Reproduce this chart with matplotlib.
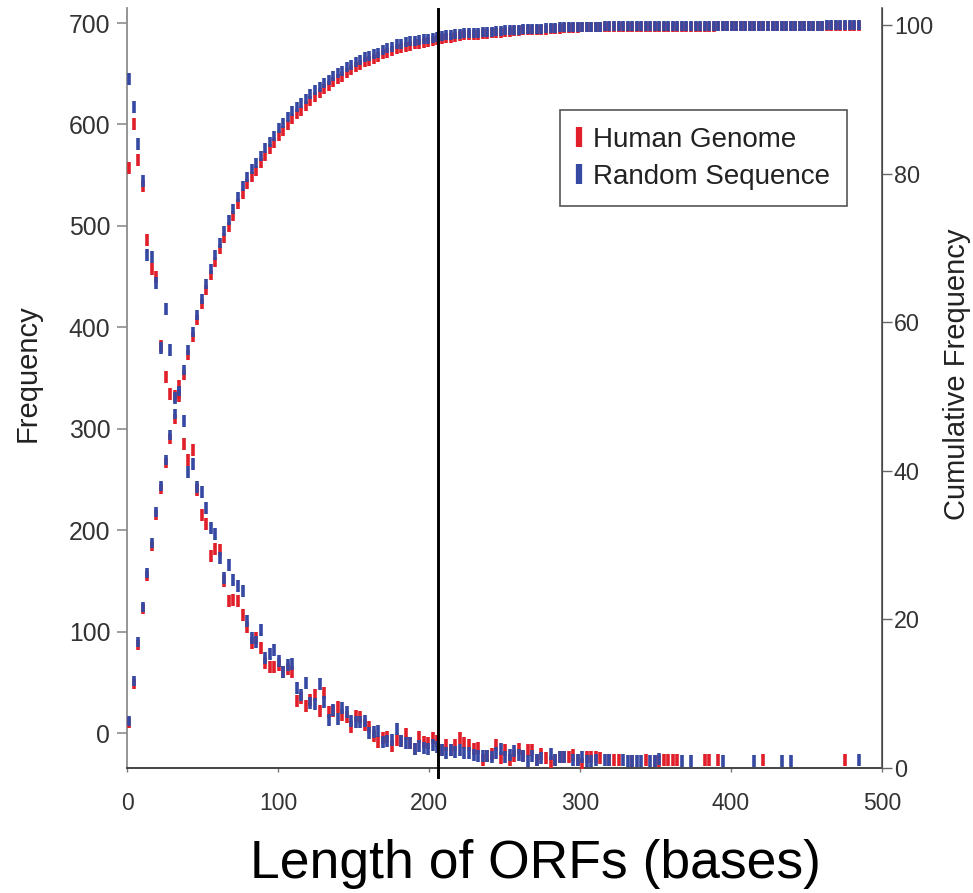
import numpy as np
import matplotlib
matplotlib.use('Agg')
import matplotlib.pyplot as plt
from matplotlib.lines import Line2D

plt.rcParams['font.family'] = ['Liberation Sans', 'DejaVu Sans']

nan = np.nan

# ORF length bins (bases), bin centres
orf_bin_center = np.arange(1.5, 486, 3)

freq_random = [
    645, 617, 581, 544, 471, 469, 444, 380, 418, 378,
    330, 335, 308, 257, 265, 243, 238, 222, 202, 196,
    173, 153, 166, 151, 145, 140, 110, 94, 90, 102,
    74, 78, 82, 71, 60, 67, 68, 44, 37, 49,
    30, 29, 48, 31, 13, 23, 14, 25, 21, 12,
    11, 11, 12, 0, 1, 2, -9, -8, -7, 4,
    -8, -10, -10, -16, -13, -15, -16, -12, -14, -17,
    -20, -17, -19, -17, -20, -20, -22, -23, -23, -23,
    -24, -20, -16, -24, -22, -18, -22, -23, -28, -23,
    -27, -25, nan, -21, -27, -24, -24, nan, -27, -27,
    -24, -28, -28, -27, nan, -27, -27, nan, nan, -27,
    -28, -28, -28, -28, nan, -28, -28, -26, nan, nan,
    nan, nan, -28, nan, -28, nan, nan, nan, nan, nan,
    nan, -28, nan, nan, nan, nan, nan, nan, -28, nan,
    nan, nan, nan, nan, -28, nan, -28, nan, nan, nan,
    nan, nan, nan, nan, nan, nan, nan, nan, nan, nan, nan, -27,
]

freq_human = [
    557, 600, 565, 539, 486, 457, 450, 382, 351, 334,
    332, 342, 285, 269, 279, 240, 215, 206, 175, 181,
    180, 150, 130, 131, 130, 116, 105, 89, 94, 84,
    69, 65, 65, 67, 60, 63, 60, 32, 35, 27,
    33, 37, 22, 39, 21, 22, 26, 18, 16, 6,
    17, 16, 8, 6, -3, -9, -5, -4, -13, -7,
    -8, -1, -10, -16, -4, -9, -10, -5, -8, -17,
    -12, -17, -12, -5, -10, -12, -16, -15, -27, -23,
    -21, -12, -25, -17, -27, -23, -16, -23, -17, -17,
    -27, -21, -25, -29, -27, -24, -24, -24, -22, -27,
    -31, -24, -24, -24, -25, nan, -27, -27, -27, nan,
    nan, -28, nan, nan, -27, nan, -28, -28, -27, -27,
    -27, -27, nan, nan, nan, nan, nan, -27, -27, nan,
    -27, nan, nan, nan, nan, nan, nan, nan, nan, nan,
    -27, nan, nan, nan, nan, nan, nan, nan, nan, nan,
    nan, nan, nan, nan, nan, nan, nan, nan, -27, nan, nan, nan,
]

cum_random = [
    6.3, 11.7, 17.0, 21.7, 26.2, 30.3, 34.4, 37.9, 41.5, 44.8,
    47.6, 50.7, 53.6, 56.3, 58.7, 61.0, 63.1, 65.2, 67.2, 69.0,
    70.7, 72.3, 73.8, 75.3, 76.9, 78.3, 79.6, 80.6, 81.4, 82.4,
    83.4, 84.3, 85.1, 86.1, 86.8, 87.6, 88.4, 89.0, 89.5, 90.1,
    90.7, 91.2, 91.6, 92.2, 92.6, 93.1, 93.5, 93.8, 94.3, 94.6,
    95.0, 95.3, 95.7, 95.9, 96.1, 96.3, 96.7, 96.9, 97.1, 97.4,
    97.5, 97.7, 97.8, 97.9, 98.0, 98.1, 98.1, 98.3, 98.4, 98.5,
    98.6, 98.7, 98.8, 98.8, 98.9, 98.9, 99.0, 99.0, 99.1, 99.1,
    99.1, 99.2, 99.2, 99.3, 99.3, 99.4, 99.4, 99.5, 99.5, 99.5,
    99.5, 99.5, 99.6, 99.6, 99.6, 99.7, 99.7, 99.7, 99.7, 99.7,
    99.8, 99.8, 99.8, 99.8, 99.8, 99.9, 99.9, 99.9, 99.9, 99.9,
    99.9, 99.9, 99.9, 99.9, 99.9, 99.9, 99.9, 99.9, 99.9, 99.9,
    99.9, 99.9, 99.9, 99.9, 99.9, 99.9, 99.9, 99.9, 99.9, 99.9,
    99.9, 99.9, 99.9, 99.9, 99.9, 99.9, 99.9, 99.9, 99.9, 99.9,
    99.9, 99.9, 99.9, 99.9, 99.9, 99.9, 99.9, 99.9, 99.9, 99.9,
    99.9, 99.9, 99.9, 99.9, 100.0, 100.0, 100.0, 100.0, 100.0, 100.0, 100.0, 100.0,
]

cum_human = [
    6.0, 11.3, 16.6, 21.4, 25.8, 29.9, 34.0, 37.5, 41.0, 44.3,
    47.0, 50.0, 52.9, 55.6, 58.0, 60.3, 62.4, 64.4, 66.3, 68.1,
    69.8, 71.3, 72.8, 74.3, 75.9, 77.3, 78.6, 79.6, 80.4, 81.4,
    82.4, 83.3, 84.1, 85.1, 85.8, 86.6, 87.4, 88.0, 88.5, 89.1,
    89.8, 90.3, 90.8, 91.4, 91.8, 92.3, 92.7, 93.0, 93.5, 93.9,
    94.3, 94.6, 95.0, 95.2, 95.5, 95.7, 96.1, 96.3, 96.5, 96.8,
    96.9, 97.1, 97.2, 97.4, 97.5, 97.6, 97.7, 97.9, 98.0, 98.1,
    98.2, 98.3, 98.4, 98.5, 98.6, 98.6, 98.7, 98.7, 98.8, 98.8,
    98.9, 99.0, 99.0, 99.1, 99.1, 99.2, 99.2, 99.3, 99.3, 99.3,
    99.4, 99.4, 99.4, 99.5, 99.5, 99.5, 99.6, 99.6, 99.6, 99.6,
    99.7, 99.7, 99.7, 99.7, 99.7, 99.7, 99.7, 99.7, 99.7, 99.7,
    99.7, 99.7, 99.7, 99.7, 99.7, 99.8, 99.8, 99.8, 99.8, 99.8,
    99.8, 99.8, 99.8, 99.8, 99.8, 99.8, 99.8, 99.8, 99.8, 99.8,
    99.9, 99.9, 99.9, 99.9, 99.9, 99.9, 99.9, 99.9, 99.9, 99.9,
    99.9, 99.9, 99.9, 99.9, 99.9, 99.9, 99.9, 99.9, 99.9, 99.9,
    99.9, 99.9, 99.9, 99.9, 99.9, 99.9, 99.9, 99.9, 99.9, 99.9, 99.9, 99.9,
]

cutoff_length = 206
freq_ticks = [0, 100, 200, 300, 400, 500, 600, 700]
cum_ticks = [0, 20, 40, 60, 80, 100]
length_ticks = [0, 100, 200, 300, 400, 500]
series_labels = ['Human Genome', 'Random Sequence']

RED = '#e11f2a'
BLUE = '#3548a2'

fig = plt.figure(figsize=(9.73, 8.93), dpi=100)
W, H = 973, 893
ax = fig.add_axes([127 / W, 1 - 768 / H, 755 / W, 760 / H])
ax2 = ax.twinx()

ms_f, ms_c, mew = 9.0, 7.0, 2.6
ax.plot(orf_bin_center, freq_human, ls='none', marker='|', ms=ms_f, mew=mew, color=RED, zorder=3)
ax.plot(orf_bin_center, freq_random, ls='none', marker='|', ms=ms_f, mew=mew, color=BLUE, zorder=4)
ax2.plot(orf_bin_center, cum_human, ls='none', marker='|', ms=ms_c, mew=mew, color=RED, zorder=3)
ax2.plot(orf_bin_center, cum_random, ls='none', marker='|', ms=ms_c, mew=mew, color=BLUE, zorder=4)

ax2.axvline(cutoff_length, ymin=-0.012, ymax=0.999, color='black', lw=2.1, clip_on=False, zorder=6)

ax.set_xlim(0, 500)
ax.set_ylim(-34.5, 714.8)
ax2.set_ylim(0, 102.3)

for a in (ax, ax2):
    a.spines['top'].set_visible(False)
ax.spines['left'].set_color('#8c8c8c')
ax.spines['left'].set_linewidth(1.3)
ax.spines['bottom'].set_color('#444444')
ax.spines['bottom'].set_linewidth(1.4)
ax2.spines['right'].set_color('#555555')
ax2.spines['right'].set_linewidth(1.2)
ax2.spines['left'].set_visible(False)
ax2.spines['bottom'].set_visible(False)

ax.set_yticks(freq_ticks)
ax.set_xticks(length_ticks)
ax2.set_yticks(cum_ticks)
ax.tick_params(axis='y', direction='out', length=7, width=1.2, color='#8c8c8c',
               labelsize=17.8, labelcolor='#333333', pad=5)
ax.tick_params(axis='x', direction='out', length=3, width=1.0, color='#777777',
               labelsize=16.5, labelcolor='#333333', pad=14)
ax2.tick_params(axis='y', direction='out', length=7, width=1.0, color='#666666',
                labelsize=16.8, labelcolor='#333333', pad=1.5)

fig.text(28 / W, 1 - 373 / H, 'Frequency', rotation=90, ha='center', va='center',
         fontsize=21, color='#222222')
fig.text(957 / W, 1 - 374 / H, 'Cumulative Frequency', rotation=90, ha='center', va='center',
         fontsize=21, color='#222222')
fig.text(535 / W, 1 - 864 / H, 'Length of ORFs (bases)', ha='center', va='center',
         fontsize=38.5, color='black')

handles = [Line2D([], [], ls='none', marker='|', ms=14, mew=4.5, color=RED),
           Line2D([], [], ls='none', marker='|', ms=14, mew=4.5, color=BLUE)]
leg = ax2.legend(handles, series_labels, loc='upper left',
                 bbox_to_anchor=(560 / W, 1 - 110 / H), bbox_transform=fig.transFigure,
                 fontsize=20, frameon=True, fancybox=False, framealpha=1,
                 edgecolor='#555555', handlelength=0.15, handletextpad=0.45,
                 labelspacing=0.4, borderpad=0.6, borderaxespad=0)
leg.get_frame().set_linewidth(1.2)
for t in leg.get_texts():
    t.set_color('#222222')

fig.savefig('out.png', dpi=100)
